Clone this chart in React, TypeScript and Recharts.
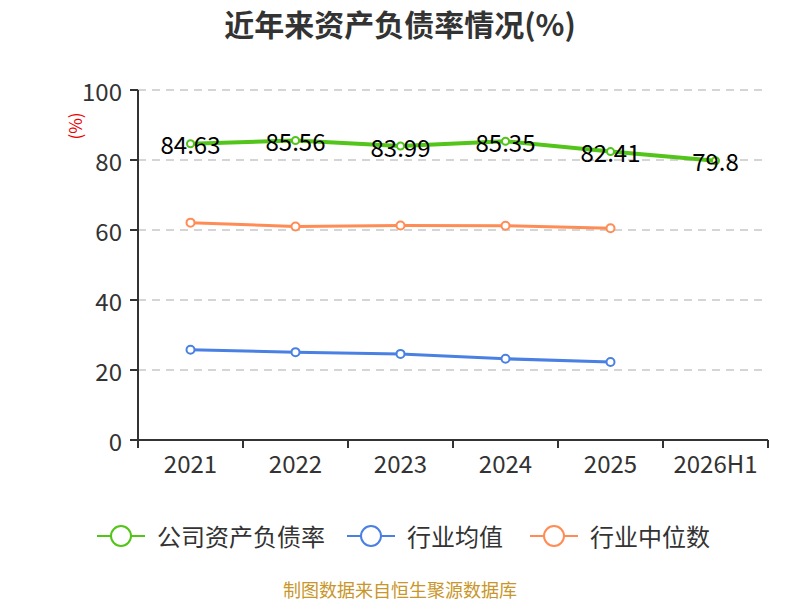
import { LineChart, Line, XAxis, YAxis, CartesianGrid, LabelList } from "recharts";

const years = ["2021", "2022", "2023", "2024", "2025", "2026H1"];
const companyRatio = [84.63, 85.56, 83.99, 85.35, 82.41, 79.8];
const industryAvg = [25.8, 25.1, 24.6, 23.2, 22.3, null];
const industryMedian = [62.1, 61.0, 61.3, 61.2, 60.5, null];
const yTicks = [0, 20, 40, 60, 80, 100];

const seriesNames = ["公司资产负债率", "行业均值", "行业中位数"];
const seriesColors = ["#52c41a", "#4a80e3", "#ff8c55"];
const legendLeft = [97, 347, 530];

const data = years.map((year, i) => ({
  year,
  company: companyRatio[i],
  avg: industryAvg[i],
  median: industryMedian[i],
}));

const font = "'Noto Sans CJK SC', 'Noto Sans', sans-serif";
const plotLeft = 138;
const plotRight = 768;
const band = (plotRight - plotLeft) / years.length;

const XTick = (props: any) => {
  const { x, y, payload, index } = props;
  const left = x - band / 2;
  return (
    <g>
      <line x1={left} y1={y - 8} x2={left} y2={y} stroke="#333" strokeWidth={2} />
      {index === years.length - 1 && (
        <line x1={x + band / 2} y1={y - 8} x2={x + band / 2} y2={y} stroke="#333" strokeWidth={2} />
      )}
      <text x={x} y={y + 25} textAnchor="middle" fill="#333" fontSize={24} fontFamily={font}>
        {payload.value}
      </text>
    </g>
  );
};

const YTick = (props: any) => {
  const { x, y, payload } = props;
  return (
    <text x={x - 6} y={y} textAnchor="end" dominantBaseline="central" fill="#333" fontSize={24} fontFamily={font}>
      {payload.value}
    </text>
  );
};

const ValueLabel = (props: any) => {
  const { x, y, value } = props;
  return (
    <text x={x} y={y} textAnchor="middle" dominantBaseline="central" fill="#000" fontSize={24} fontFamily={font}>
      {value}
    </text>
  );
};

const LegendIcon = ({ color }: { color: string }) => (
  <svg width={48} height={24} style={{ marginRight: 12 }}>
    <line x1={0} y1={12} x2={48} y2={12} stroke={color} strokeWidth={2} />
    <circle cx={24} cy={12} r={10} fill="#fff" stroke={color} strokeWidth={2} />
  </svg>
);

const App = () => {
  return (
    <div style={{ position: "absolute", left: 0, top: 0, width: 800, height: 600, background: "#fff", fontFamily: font, overflow: "hidden" }}>
      <div style={{ position: "absolute", top: 1, width: 800, textAlign: "center", fontSize: 30, fontWeight: "bold", color: "#333" }}>
        近年来资产负债率情况(%)
      </div>
      <div
        style={{
          position: "absolute",
          left: 59,
          top: 114,
          width: 32,
          height: 24,
          transform: "rotate(-90deg)",
          color: "#e00",
          fontSize: 17,
          textAlign: "center",
          lineHeight: "24px",
        }}
      >
        (%)
      </div>
      <LineChart width={800} height={600} data={data} margin={{ top: 90, right: 32, bottom: 120, left: 78 }}>
        <CartesianGrid vertical={false} stroke="#c8c8c8" strokeDasharray="8 6" strokeWidth={1.5} />
        <XAxis
          dataKey="year"
          scale="band"
          height={40}
          tickLine={false}
          axisLine={{ stroke: "#333", strokeWidth: 2 }}
          tick={<XTick />}
          interval={0}
        />
        <YAxis
          width={60}
          domain={[0, 100]}
          ticks={yTicks}
          axisLine={{ stroke: "#333", strokeWidth: 2 }}
          tickLine={{ stroke: "#333", strokeWidth: 2 }}
          tickSize={8}
          tick={<YTick />}
        />
        <Line
          dataKey="median"
          stroke={seriesColors[2]}
          strokeWidth={3}
          dot={{ r: 4, fill: "#fff", stroke: seriesColors[2], strokeWidth: 2 }}
          isAnimationActive={false}
        />
        <Line
          dataKey="avg"
          stroke={seriesColors[1]}
          strokeWidth={3}
          dot={{ r: 4, fill: "#fff", stroke: seriesColors[1], strokeWidth: 2 }}
          isAnimationActive={false}
        />
        <Line
          dataKey="company"
          stroke={seriesColors[0]}
          strokeWidth={4}
          dot={{ r: 3.5, fill: "#fff", stroke: seriesColors[0], strokeWidth: 2 }}
          isAnimationActive={false}
        >
          <LabelList dataKey="company" content={<ValueLabel />} />
        </Line>
      </LineChart>
      {seriesNames.map((name, i) => (
        <div
          key={name}
          style={{
            position: "absolute",
            top: 518,
            left: legendLeft[i],
            display: "flex",
            alignItems: "center",
            fontSize: 24,
            color: "#333",
            whiteSpace: "nowrap",
          }}
        >
          <LegendIcon color={seriesColors[i]} />
          <span>{name}</span>
        </div>
      ))}
      <div
        style={{
          position: "absolute",
          top: 579,
          width: 800,
          textAlign: "center",
          fontSize: 18,
          lineHeight: "20px",
          color: "#c8962a",
        }}
      >
        制图数据来自恒生聚源数据库
      </div>
    </div>
  );
};

export default App;
